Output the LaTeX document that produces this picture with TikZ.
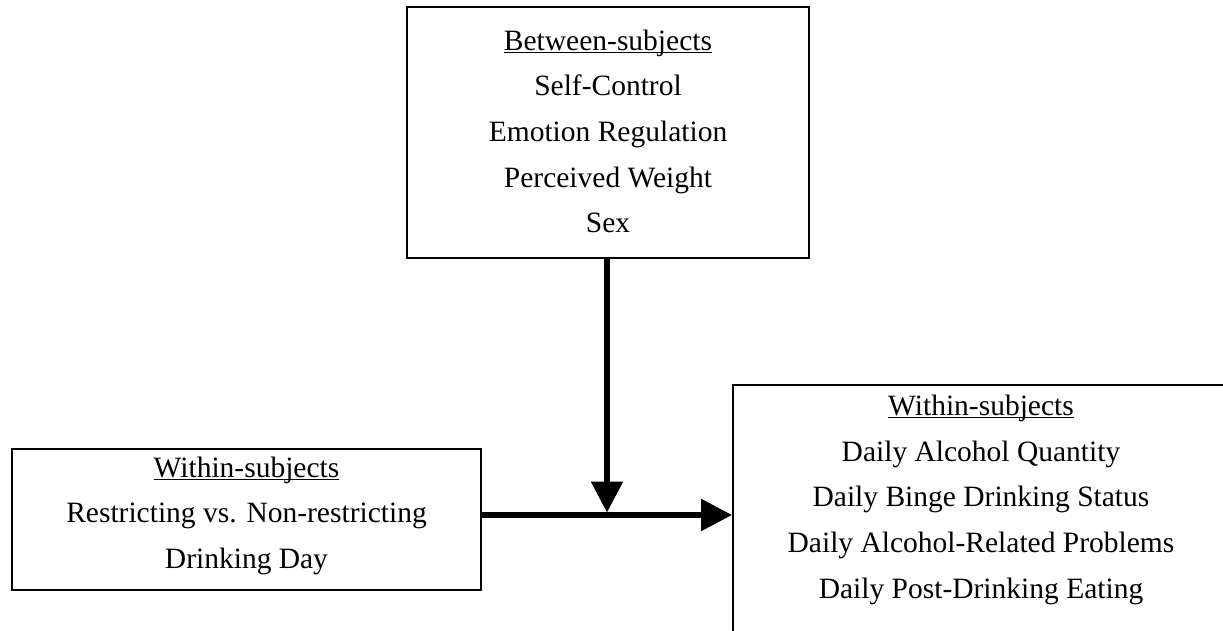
\documentclass[tikz,border=0pt]{standalone}
\usepackage{fontspec}
\setmainfont{Liberation Serif}
\usetikzlibrary{arrows.meta}
\newcommand{\myul}[1]{\setbox0\hbox{#1}\rlap{\rule[-3pt]{\wd0}{1.5pt}}\box0}
\begin{document}
\begin{tikzpicture}[x=1pt,y=-1pt,
  boxstyle/.style={draw=black,line width=2pt,rectangle,inner sep=0pt,fill=white},
  txtstyle/.style={inner sep=0pt,align=center,font=\fontsize{29.5}{45.7}\selectfont},
  arrowstyle/.style={line width=5.6pt,-{Triangle[length=31pt,width=31pt]}}]
\useasboundingbox (0,0) rectangle (1223,631);
\clip (0,0) rectangle (1223,631);
\fill[white] (0,0) rectangle (1223,631);
% boxes
\node[boxstyle,minimum width=402pt,minimum height=251pt] (topbox) at (608,132.5) {};
\node[boxstyle,minimum width=469pt,minimum height=141pt] (leftbox) at (246.5,519.5) {};
\node[boxstyle,minimum width=496pt,minimum height=270pt] (rightbox) at (981,520) {};
% texts
\node[txtstyle] (toptext) at (608,131.5) {\myul{Between-subjects}\\Self-Control\\Emotion Regulation\\Perceived Weight\\Sex};
\node[txtstyle] (lefttext) at (246.5,515.7) {\myul{Within-subjects}\\Restricting vs. Non-restricting\\Drinking Day};
\node[txtstyle] (righttext) at (981,499.7) {\myul{Within-subjects}\\Daily Alcohol Quantity\\Daily Binge Drinking Status\\Daily Alcohol-Related Problems\\Daily Post-Drinking Eating};
% connectors
\coordinate (junction) at (607,515);
\draw[arrowstyle] (leftbox.east |- junction) -- (rightbox.west |- junction);
\draw[arrowstyle,shorten >=2.5pt] (topbox.south -| junction) -- (junction);
\end{tikzpicture}
\end{document}
